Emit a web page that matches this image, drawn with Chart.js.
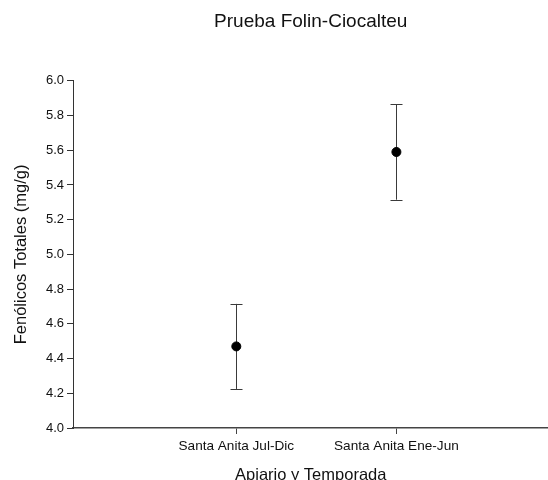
<!DOCTYPE html>
<html>
<head>
<meta charset="utf-8">
<script src="https://cdn.jsdelivr.net/npm/chart.js@4/dist/chart.umd.min.js"></script>
<style>
  html, body { margin: 0; padding: 0; background: #fff; overflow: hidden; }
  #wrap { width: 548px; height: 480px; overflow: hidden; }
</style>
</head>
<body>
<div id="wrap"><canvas id="myChart" width="554" height="490"></canvas></div>
<script>
const categories = ['Santa Anita Jul-Dic', 'Santa Anita Ene-Jun'];
const positions = [1, 2];
const means = [4.47, 5.59];
const errors = [0.245, 0.275];
const yTicks = [4.0, 4.2, 4.4, 4.6, 4.8, 5.0, 5.2, 5.4, 5.6, 5.8, 6.0];

const points = positions.map((x, i) => ({ x: x, y: means[i] }));

// vertical error bars with caps, drawn under the points
const errorBars = {
    id: 'errorBars',
    beforeDatasetsDraw(chart) {
        const ctx = chart.ctx;
        const xs = chart.scales.x;
        const ys = chart.scales.y;
        ctx.save();
        ctx.strokeStyle = '#3a3a3a';
        ctx.lineWidth = 1;
        positions.forEach((p, i) => {
            const px = Math.round(xs.getPixelForValue(p)) + 0.5;
            const top = ys.getPixelForValue(means[i] + errors[i]);
            const bot = ys.getPixelForValue(means[i] - errors[i]);
            ctx.beginPath();
            ctx.moveTo(px, top);
            ctx.lineTo(px, bot);
            ctx.moveTo(px - 6, Math.round(top) + 0.5);
            ctx.lineTo(px + 6, Math.round(top) + 0.5);
            ctx.moveTo(px - 6, Math.round(bot) + 0.5);
            ctx.lineTo(px + 6, Math.round(bot) + 0.5);
            ctx.stroke();
        });
        ctx.restore();
    }
};

const ctx = document.getElementById('myChart').getContext('2d');
const myChart = new Chart(ctx, {
    type: 'scatter',
    data: {
        datasets: [{
            label: 'Fenólicos',
            data: points,
            backgroundColor: '#000',
            borderColor: '#000',
            pointRadius: 4.5,
            pointHoverRadius: 4.5
        }]
    },
    options: {
        responsive: false,
        animation: false,
        events: [],
        layout: { padding: 0 },
        plugins: {
            legend: { display: false },
            tooltip: { enabled: false },
            title: {
                display: true,
                fullSize: false,
                text: 'Prueba Folin-Ciocalteu',
                color: '#111',
                font: { family: 'Liberation Sans', size: 19, weight: 'normal' },
                padding: { top: 10, bottom: 48 }
            }
        },
        scales: {
            x: {
                type: 'linear',
                min: -0.02,
                max: 2.95,
                afterFit(scale) { scale.height = 62; },
                afterBuildTicks(scale) {
                    scale.ticks = positions.map(v => ({ value: v }));
                },
                border: { display: true, color: '#444', width: 1.5 },
                grid: { display: true, drawOnChartArea: false, tickLength: 6, color: '#444' },
                ticks: {
                    padding: 4,
                    color: '#111',
                    font: { family: 'Liberation Sans', size: 13.6 },
                    maxRotation: 0,
                    callback: (v) => categories[positions.indexOf(v)]
                },
                title: {
                    display: true,
                    text: 'Apiario y Temporada',
                    color: '#111',
                    font: { family: 'Liberation Sans', size: 16.5 },
                    padding: { top: 0, bottom: 5 }
                }
            },
            y: {
                min: 4.0,
                max: 6.0,
                afterFit(scale) { scale.width = 73; },
                afterBuildTicks(scale) {
                    scale.ticks = yTicks.map(v => ({ value: v }));
                },
                border: { display: true, color: '#333', width: 1 },
                grid: { display: true, drawOnChartArea: false, tickLength: 6, color: '#333' },
                ticks: {
                    padding: 3,
                    color: '#111',
                    font: { family: 'Liberation Sans', size: 13 },
                    callback: (v) => v.toFixed(1)
                },
                title: {
                    display: true,
                    text: 'Fenólicos Totales (mg/g)',
                    color: '#111',
                    font: { family: 'Liberation Sans', size: 16.5 },
                    padding: { top: 12, bottom: 0 }
                }
            }
        }
    },
    plugins: [errorBars]
});
</script>
</body>
</html>
